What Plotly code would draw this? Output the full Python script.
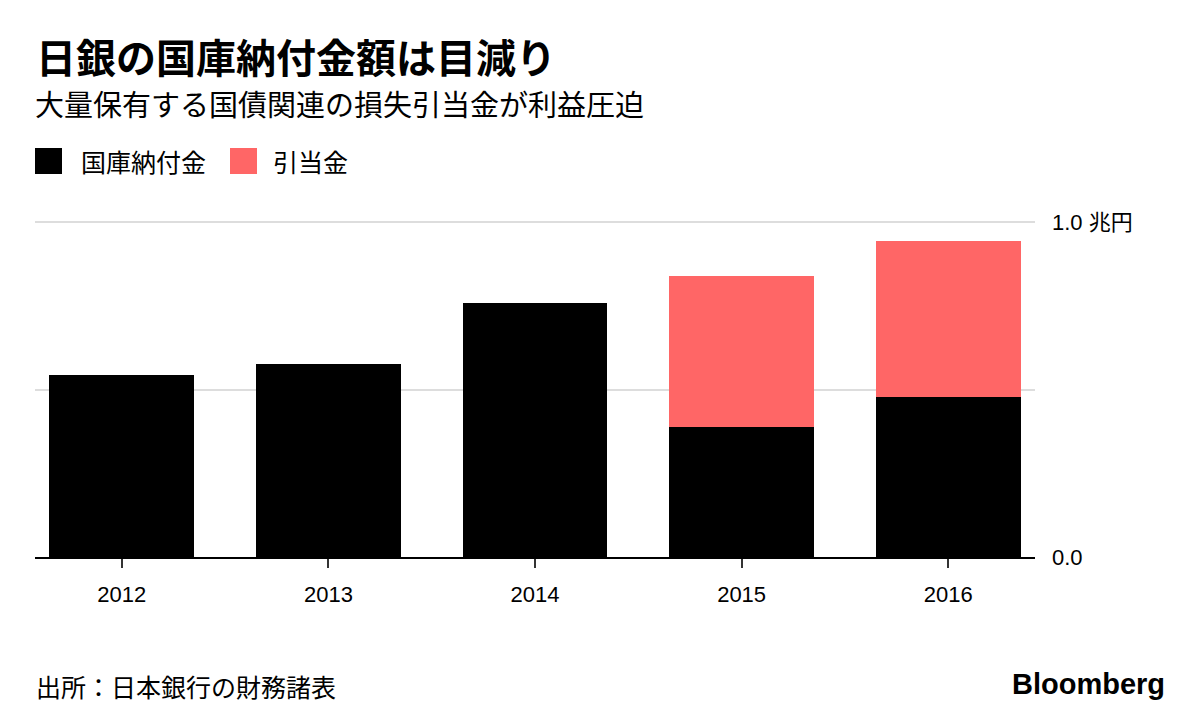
import plotly.graph_objects as go

years = ["2012", "2013", "2014", "2015", "2016"]
payment = [0.543, 0.576, 0.758, 0.388, 0.478]      # 国庫納付金 (兆円)
provision = [None, None, None, 0.451, 0.465]       # 引当金 (兆円)
ytick_vals = [0, 0.5, 1.0]
ytick_text = ["0.0", "", "1.0 兆円"]

BLACK = "#000000"
RED = "#FF6666"
FONT = "Liberation Sans, Noto Sans CJK JP, sans-serif"
JFONT = "Noto Sans CJK JP, sans-serif"

fig = go.Figure()
fig.add_bar(x=years, y=payment, name="国庫納付金", marker_color=BLACK, marker_line_width=0)
fig.add_bar(x=years, y=provision, name="引当金", marker_color=RED, marker_line_width=0)

fig.update_layout(
    width=1200, height=716,
    barmode="stack", bargap=0.3,
    showlegend=False,
    plot_bgcolor="white", paper_bgcolor="white",
    margin=dict(l=27, r=173, t=210, b=167),
    font=dict(family=FONT, color="#000"),
    xaxis=dict(
        type="category", range=[-0.42, 4.42],
        showline=True, linecolor="#000", linewidth=1.5,
        ticks="outside", ticklen=9, tickcolor="#333", tickwidth=1.5,
        ticklabelstandoff=8,
        tickfont=dict(size=22, family=FONT, color="#000"),
        showgrid=False,
    ),
    yaxis=dict(
        range=[0, 1.012], side="right",
        tickvals=ytick_vals, ticktext=ytick_text,
        showgrid=True, gridcolor="#DDDDDD", gridwidth=2,
        zeroline=False, showline=False, ticks="",
        ticklabelstandoff=16,
        tickfont=dict(size=22, family=FONT, color="#000"),
    ),
)

def px_x(p):
    return (p - 35) / 1000
def px_y(p):
    return (557 - p) / 339

# Title / subtitle
fig.add_annotation(text="<b>日銀の国庫納付金額は目減り</b>", xref="paper", yref="paper",
                   x=px_x(34), y=px_y(56), xanchor="left", yanchor="middle",
                   showarrow=False, font=dict(size=40, family=JFONT, color="#000"))
fig.add_annotation(text="大量保有する国債関連の損失引当金が利益圧迫", xref="paper", yref="paper",
                   x=px_x(33), y=px_y(103), xanchor="left", yanchor="middle",
                   showarrow=False, font=dict(size=29, family=JFONT, color="#000"))

# Legend
fig.add_shape(type="rect", xref="paper", yref="paper",
              x0=px_x(35), x1=px_x(62), y0=px_y(174), y1=px_y(148),
              fillcolor=BLACK, line_width=0)
fig.add_annotation(text="国庫納付金", xref="paper", yref="paper", x=px_x(79), y=px_y(161),
                   xanchor="left", yanchor="middle", showarrow=False,
                   font=dict(size=25, family=JFONT, color="#000"))
fig.add_shape(type="rect", xref="paper", yref="paper",
              x0=px_x(230), x1=px_x(257), y0=px_y(174), y1=px_y(148),
              fillcolor=RED, line_width=0)
fig.add_annotation(text="引当金", xref="paper", yref="paper", x=px_x(271), y=px_y(161),
                   xanchor="left", yanchor="middle", showarrow=False,
                   font=dict(size=25, family=JFONT, color="#000"))

# Source / logo
fig.add_annotation(text="出所：日本銀行の財務諸表", xref="paper", yref="paper", x=px_x(34), y=px_y(686),
                   xanchor="left", yanchor="middle", showarrow=False,
                   font=dict(size=25, family=JFONT, color="#000"))
fig.add_annotation(text="<b>Bloomberg</b>", xref="paper", yref="paper", x=px_x(1167), y=px_y(684),
                   xanchor="right", yanchor="middle", showarrow=False,
                   font=dict(size=29, family="Liberation Sans, sans-serif", color="#000"))

fig.write_html("out.html")
